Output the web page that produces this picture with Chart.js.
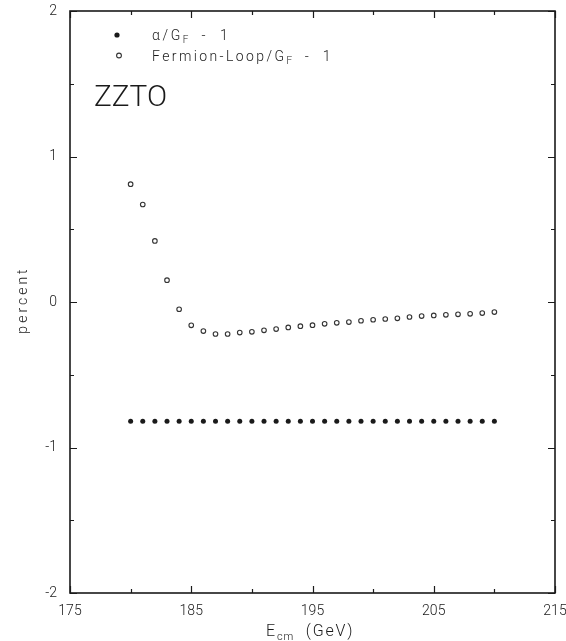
<!DOCTYPE html>
<html><head><meta charset="utf-8">
<script src="https://cdn.jsdelivr.net/npm/chart.js@4"></script>
<style>html,body{margin:0;padding:0;background:#fff}#wrap{width:566px;height:641px;position:relative}</style>
</head><body><div id="wrap"><canvas id="c"></canvas></div>
<script>
// ---- data ----
const energies = [180,181,182,183,184,185,186,187,188,189,190,191,192,193,194,195,196,197,198,199,200,201,202,203,204,205,206,207,208,209,210];
const alphaOverGf = [-0.82,-0.82,-0.82,-0.82,-0.82,-0.82,-0.82,-0.82,-0.82,-0.82,-0.82,-0.82,-0.82,-0.82,-0.82,-0.82,-0.82,-0.82,-0.82,-0.82,-0.82,-0.82,-0.82,-0.82,-0.82,-0.82,-0.82,-0.82,-0.82,-0.82,-0.82];
const fermionLoopOverGf = [0.81,0.67,0.42,0.15,-0.05,-0.16,-0.20,-0.22,-0.22,-0.21,-0.205,-0.195,-0.186,-0.175,-0.166,-0.159,-0.15,-0.143,-0.138,-0.129,-0.122,-0.117,-0.112,-0.103,-0.097,-0.092,-0.088,-0.085,-0.081,-0.076,-0.069];
const xTickLabels = [175,185,195,205,215];
const xMinorTicks = [180,190,200,210];
const yTickLabels = [-2,-1,0,1,2];
const yMinorTicks = [-1.5,-0.5,0.5,1.5];
const processLabel = "ZZTO";

const LIGHT = "Roboto, Lato, Inter, 'Liberation Sans', sans-serif";
const INK = '#1a1a1a';

function drawRich(ctx, parts, x, y, size, spacing) {
  let cx = x;
  for (const p of parts) {
    const fs = p.sub ? Math.round(size * 0.68) : size;
    ctx.font = '300 ' + fs + 'px ' + LIGHT;
    ctx.letterSpacing = (p.sub ? 1 : spacing) + 'px';
    const dy = p.sub ? size * 0.28 : 0;
    ctx.fillText(p.t, cx, y + dy);
    cx += ctx.measureText(p.t).width;
  }
  ctx.letterSpacing = '0px';
}

const decor = {
  id: 'decor',
  afterDraw(chart) {
    const { ctx, chartArea: a, scales: { x, y } } = chart;
    ctx.save();
    ctx.strokeStyle = INK;
    ctx.lineWidth = 1.6;
    ctx.strokeRect(a.left, a.top, a.right - a.left, a.bottom - a.top);
    const maj = 7, mn = 4;
    ctx.beginPath();
    for (const v of xTickLabels.concat(xMinorTicks)) {
      const L = xTickLabels.includes(v) ? maj : mn;
      const px = Math.round(x.getPixelForValue(v)) + 0.5;
      ctx.moveTo(px, a.bottom); ctx.lineTo(px, a.bottom - L);
      ctx.moveTo(px, a.top); ctx.lineTo(px, a.top + L);
    }
    for (const v of yTickLabels.concat(yMinorTicks)) {
      const L = yTickLabels.includes(v) ? maj : mn;
      const py = Math.round(y.getPixelForValue(v)) + 0.5;
      ctx.moveTo(a.left, py); ctx.lineTo(a.left + L, py);
      ctx.moveTo(a.right, py); ctx.lineTo(a.right - L, py);
    }
    ctx.lineWidth = 1.2;
    ctx.stroke();

    // legend
    ctx.fillStyle = INK;
    ctx.beginPath(); ctx.arc(117, 35, 2.6, 0, Math.PI * 2); ctx.fill();
    ctx.beginPath(); ctx.arc(119, 55.5, 2.4, 0, Math.PI * 2);
    ctx.lineWidth = 1.1; ctx.strokeStyle = '#333'; ctx.stroke();
    ctx.textBaseline = 'alphabetic';
    ctx.textAlign = 'left';
    drawRich(ctx, [{ t: 'α/G' }, { t: 'F', sub: true }, { t: '  -  1' }], 152, 39.5, 14, 2.6);
    drawRich(ctx, [{ t: 'Fermion-Loop/G' }, { t: 'F', sub: true }, { t: '  -  1' }], 152, 60.5, 14, 2.4);

    // process label
    ctx.font = '300 30px ' + LIGHT;
    ctx.letterSpacing = '0px';
    const w = ctx.measureText(processLabel).width;
    ctx.save();
    ctx.translate(94, 106);
    ctx.scale(73 / w, 1);
    ctx.fillText(processLabel, 0, 0);
    ctx.restore();

    // axis titles
    drawRich(ctx, [{ t: 'E' }, { t: 'cm', sub: true }, { t: '  (GeV)' }], 266, 636, 16, 1.8);
    ctx.save();
    ctx.translate(27, 300);
    ctx.rotate(-Math.PI / 2);
    ctx.textAlign = 'center';
    ctx.font = '300 14px ' + LIGHT;
    ctx.letterSpacing = '3px';
    ctx.fillText('percent', 0, 0);
    ctx.restore();
    ctx.restore();
  }
};

new Chart(document.getElementById('c'), {
  type: 'scatter',
  data: {
    datasets: [
      {
        label: 'α/G_F - 1',
        data: energies.map((e, i) => ({ x: e, y: alphaOverGf[i] })),
        pointStyle: 'circle', pointRadius: 2.5, backgroundColor: INK, borderColor: INK, borderWidth: 0
      },
      {
        label: 'Fermion-Loop/G_F - 1',
        data: energies.map((e, i) => ({ x: e, y: fermionLoopOverGf[i] })),
        pointStyle: 'circle', pointRadius: 2.3, backgroundColor: 'rgba(255,255,255,0)', borderColor: '#333', borderWidth: 1.1
      }
    ]
  },
  options: {
    responsive: true, maintainAspectRatio: false, animation: false,
    layout: { padding: { top: 11, right: 11, left: 0, bottom: 0 } },
    plugins: { legend: { display: false }, tooltip: { enabled: false } },
    scales: {
      x: {
        type: 'linear', min: 175, max: 215,
        grid: { display: false, drawTicks: false }, border: { display: false },
        afterBuildTicks: s => { s.ticks = xTickLabels.map(v => ({ value: v })); },
        afterFit: s => { s.height = 48; s.paddingLeft = 0; s.paddingRight = 0; s.paddingTop = 0; s.paddingBottom = 0; },
        ticks: { padding: 10, color: INK, font: { family: LIGHT, size: 14, weight: 300 }, maxRotation: 0, autoSkip: false }
      },
      y: {
        type: 'linear', min: -2, max: 2,
        grid: { display: false, drawTicks: false }, border: { display: false },
        afterBuildTicks: s => { s.ticks = yTickLabels.map(v => ({ value: v })); },
        afterFit: s => { s.width = 70; s.paddingLeft = 0; s.paddingRight = 0; s.paddingTop = 0; s.paddingBottom = 0; },
        ticks: { padding: 13, color: INK, font: { family: LIGHT, size: 14, weight: 300 } }
      }
    }
  },
  plugins: [decor]
});
</script></body></html>
